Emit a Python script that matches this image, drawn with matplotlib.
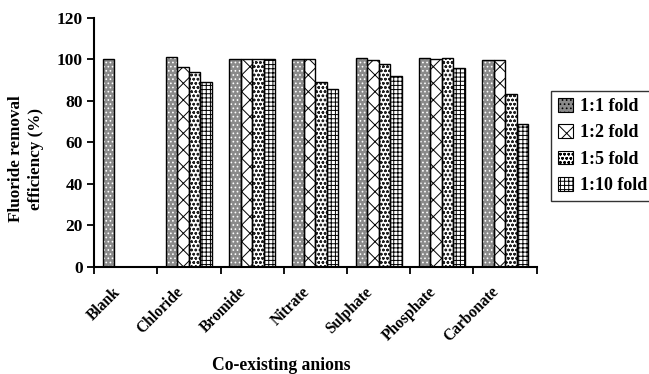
import numpy as np
import matplotlib
matplotlib.use("Agg")
import matplotlib.pyplot as plt
from matplotlib.patches import Patch

plt.rcParams['font.family'] = ['Liberation Serif', 'DejaVu Serif']
plt.rcParams['font.weight'] = 'bold'
plt.rcParams['hatch.linewidth'] = 0.7

categories = ["Blank", "Chloride", "Bromide", "Nitrate", "Sulphate", "Phosphate", "Carbonate"]
series_names = ["1:1 fold", "1:2 fold", "1:5 fold", "1:10 fold"]
fold_1_1 = [100, 101, 100, 100, 100.5, 100.5, 99.8]
fold_1_2 = [np.nan, 96.5, 100, 100, 99.7, 100.3, 99.8]
fold_1_5 = [np.nan, 93.9, 100, 89, 98, 100.5, 83.3]
fold_1_10 = [np.nan, 89.2, 100, 85.5, 92, 96, 69]
yticks = [0, 20, 40, 60, 80, 100, 120]

series = [fold_1_1, fold_1_2, fold_1_5, fold_1_10]
styles = [
    dict(face="#8a8a8a", hatch_color="white", hatch="...."),
    dict(face="white", hatch_color="black", hatch="xx"),
    dict(face="white", hatch_color="#222222", hatch="oooo"),
    dict(face="white", hatch_color="black", hatch="++++"),
]

fig = plt.figure(figsize=(6.49, 3.74), dpi=100)
ax = fig.add_axes([0.145, 0.287, 0.682, 0.665])

n = len(categories)
group_w = 0.73
bw = group_w / 4
centers = np.arange(n) + 0.5
for k, (vals, st) in enumerate(zip(series, styles)):
    xs = centers - group_w / 2 + bw * (k + 0.5)
    v = np.array(vals, dtype=float)
    ax.bar(xs, v, width=bw, facecolor=st["face"], edgecolor=st["hatch_color"],
           hatch=st["hatch"], linewidth=0, zorder=2)
    ax.bar(xs, v, width=bw, fill=False, edgecolor="black", linewidth=1.0, zorder=3)

ax.set_xlim(0, n)
ax.set_ylim(0, 120)
ax.set_yticks(yticks)
ax.set_yticklabels([str(t) for t in yticks], fontsize=12.5, fontweight='bold')
ax.set_xticks(np.arange(n + 1))
ax.set_xticklabels([])
ax.tick_params(axis='both', direction='out', length=5, width=1.3, colors='black')
ax.tick_params(axis='y', pad=3)
for s in ['top', 'right']:
    ax.spines[s].set_visible(False)
for s in ['left', 'bottom']:
    ax.spines[s].set_linewidth(1.5)

for i, name in enumerate(categories):
    ax.text(centers[i] - 0.22, -0.07, name, transform=ax.get_xaxis_transform(),
            rotation=45, ha='right', va='top', rotation_mode='anchor',
            fontsize=11.2, fontweight='bold')

fig.text(0.433, 0.022, "Co-existing anions", ha='center', va='center',
         fontsize=12.7, fontweight='bold')
fig.text(0.04, 0.575, "Fluoride removal\nefficiency (%)", rotation=90,
         ha='center', va='center', fontsize=12.3, fontweight='bold',
         linespacing=1.3)

handles = [Patch(facecolor=st["face"], edgecolor="black", hatch=st["hatch"], linewidth=0.8)
           for st in styles]
leg = fig.legend(handles, series_names, loc='upper left',
                 bbox_to_anchor=(0.849, 0.757), frameon=True, fancybox=False,
                 edgecolor='black', fontsize=13, handlelength=0.8,
                 handleheight=0.8, handletextpad=0.4, borderpad=0.4,
                 labelspacing=0.5, borderaxespad=0)
leg.get_frame().set_linewidth(1.0)
for t in leg.get_texts():
    t.set_fontweight('bold')

fig.savefig("out.png", dpi=100)
